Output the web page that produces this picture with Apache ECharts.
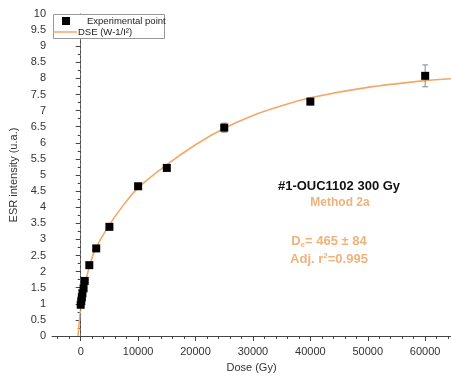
<!DOCTYPE html>
<html>
<head>
<meta charset="utf-8">
<script src="https://cdn.jsdelivr.net/npm/echarts@6/dist/echarts.min.js"></script>
<style>
  html, body { margin: 0; padding: 0; background: #fff; }
  #chart { width: 451px; height: 383px; }
</style>
</head>
<body>
<div id="chart"></div>
<script>
// Measured ESR intensities for the additive dose steps
const doses = [0, 100, 200, 300, 500, 700, 1500, 2700, 5000, 10000, 15000, 25000, 40000, 60000];
const intensities = [0.97, 1.08, 1.2, 1.33, 1.48, 1.71, 2.2, 2.72, 3.39, 4.65, 5.22, 6.47, 7.28, 8.08];
const errors = [0.04, 0.04, 0.04, 0.04, 0.05, 0.05, 0.06, 0.07, 0.08, 0.08, 0.1, 0.14, 0.1, 0.34];

// Fitted dose saturating exponential, sampled along the dose range
const fitDoses = [-465, -300, -100, 0, 250, 500, 1000, 1500, 2500, 5000, 7500, 10000, 15000, 20000, 25000, 30000, 35000, 40000, 50000, 60000, 64500];
const fitValues = [0, 0.35, 0.7, 0.86, 1.15, 1.38, 1.8, 2.14, 2.68, 3.45, 4.08, 4.6, 5.32, 5.94, 6.45, 6.85, 7.15, 7.4, 7.72, 7.93, 7.99];

// Axis ticks and labels
const xMajorTicks = [0, 10000, 20000, 30000, 40000, 50000, 60000];
const xMinorTicks = [-4000, -2000, 2000, 4000, 6000, 8000, 12000, 14000, 16000, 18000, 22000, 24000, 26000, 28000,
  32000, 34000, 36000, 38000, 42000, 44000, 46000, 48000, 52000, 54000, 56000, 58000, 62000, 64000];
const yTickStep = 0.5;

const orange = '#F3A867';
const textOrange = '#F0B27A';
const axisColor = '#444';
const font = 'Liberation Sans, Arial, sans-serif';

const chart = echarts.init(document.getElementById('chart'));

const points = doses.map((d, i) => [d, intensities[i]]);
const errData = doses.map((d, i) => [d, intensities[i] - errors[i], intensities[i] + errors[i]]);
const fitData = fitDoses.map((d, i) => [d, fitValues[i]]);

const xBase = {
  type: 'value',
  min: -5000,
  max: 64500,
  splitLine: { show: false },
  axisLine: { show: true, onZero: false, lineStyle: { color: axisColor, width: 1 } }
};

chart.setOption({
  animation: false,
  textStyle: { fontFamily: font },
  grid: { left: 52, right: 0, top: 14, bottom: 47 },
  legend: [
    {
      data: [{ name: 'Experimental point', icon: 'rect' }],
      left: 62, top: 16, z: 80, padding: 0,
      itemWidth: 8, itemHeight: 8, itemGap: 0,
      textStyle: { fontSize: 9.5, color: '#222', padding: [0, 0, 0, 12] }
    },
    {
      data: [{ name: 'DSE (W-1/I²)', icon: 'rect' }],
      left: 53, top: 27, z: 80, padding: 0,
      itemWidth: 24, itemHeight: 1.5, itemGap: 0,
      textStyle: { fontSize: 9.5, color: '#222', padding: [0, 0, 0, -4] }
    }
  ],
  xAxis: [
    Object.assign({}, xBase, {
      name: 'Dose (Gy)',
      nameLocation: 'middle',
      nameGap: 26,
      nameTextStyle: { fontSize: 11, color: '#333' },
      axisTick: { show: true, length: 5, customValues: xMajorTicks, lineStyle: { color: axisColor } },
      axisLabel: { show: true, customValues: xMajorTicks, fontSize: 11, color: '#333', margin: 10,
        formatter: v => String(v) }
    }),
    Object.assign({}, xBase, {
      position: 'bottom',
      axisLine: { show: false },
      axisTick: { show: true, length: 3, customValues: xMinorTicks, lineStyle: { color: axisColor } },
      axisLabel: { show: false }
    })
  ],
  yAxis: {
    type: 'value',
    min: 0,
    max: 10,
    interval: yTickStep,
    name: 'ESR intensity (u.a.)',
    nameLocation: 'middle',
    nameGap: 26,
    nameTextStyle: { fontSize: 11, color: '#333' },
    splitLine: { show: false },
    axisLine: { show: true, lineStyle: { color: axisColor } },
    axisTick: { show: true, length: 5, lineStyle: { color: axisColor } },
    minorTick: { show: true, splitNumber: 2, length: 3, lineStyle: { color: axisColor } },
    axisLabel: { fontSize: 11, color: '#333', margin: 6 }
  },
  graphic: [
    {
      type: 'rect',
      shape: { x: 53.5, y: 14.5, width: 111, height: 24 },
      style: { fill: '#fff', stroke: '#999', lineWidth: 1 },
      z: 50
    },
    {
      type: 'text', z: 60,
      style: { text: '#1-OUC1102 300 Gy', x: 339, y: 186, align: 'center', verticalAlign: 'middle',
        font: 'bold 13px ' + font, fill: '#111' }
    },
    {
      type: 'text', z: 60,
      style: { text: 'Method 2a', x: 340, y: 203, align: 'center', verticalAlign: 'middle',
        font: 'bold 12px ' + font, fill: textOrange }
    },
    {
      type: 'text', z: 60,
      style: {
        text: '{b|D}{s|e}{b|= 465 ± 84}', x: 329, y: 241, align: 'center', verticalAlign: 'middle',
        rich: {
          b: { font: 'bold 13px ' + font, fill: textOrange },
          s: { font: 'bold 8px ' + font, fill: textOrange, padding: [8, 0, 0, 0] }
        }
      }
    },
    {
      type: 'text', z: 60,
      style: {
        text: '{b|Adj. r}{p|2}{b|=0.995}', x: 329, y: 259, align: 'center', verticalAlign: 'middle',
        rich: {
          b: { font: 'bold 13px ' + font, fill: textOrange },
          p: { font: 'bold 8px ' + font, fill: textOrange, padding: [0, 0, 7, 0] }
        }
      }
    }
  ],
  series: [
    {
      name: 'DSE (W-1/I²)',
      type: 'line',
      data: fitData,
      smooth: 0.3,
      showSymbol: false,
      symbol: 'none',
      lineStyle: { color: orange, width: 1.6 },
      itemStyle: { color: orange },
      z: 3,
      markLine: {
        silent: true,
        symbol: 'none',
        label: { show: false },
        lineStyle: { color: '#777', type: [3, 2], width: 0.8 },
        data: [[{ coord: [0, 0] }, { coord: [0, 10] }]]
      }
    },
    {
      name: 'error',
      type: 'custom',
      data: errData,
      z: 4,
      renderItem: function (params, api) {
        const x = api.value(0);
        const lo = api.coord([x, api.value(1)]);
        const hi = api.coord([x, api.value(2)]);
        const cap = 3;
        const st = { stroke: '#888', lineWidth: 1 };
        return {
          type: 'group',
          children: [
            { type: 'line', shape: { x1: lo[0], y1: lo[1], x2: hi[0], y2: hi[1] }, style: st },
            { type: 'line', shape: { x1: lo[0] - cap, y1: lo[1], x2: lo[0] + cap, y2: lo[1] }, style: st },
            { type: 'line', shape: { x1: hi[0] - cap, y1: hi[1], x2: hi[0] + cap, y2: hi[1] }, style: st }
          ]
        };
      }
    },
    {
      name: 'Experimental point',
      type: 'scatter',
      data: points,
      symbol: 'rect',
      symbolSize: 8,
      itemStyle: { color: '#000', opacity: 1 },
      z: 5
    }
  ]
});
</script>
</body>
</html>
